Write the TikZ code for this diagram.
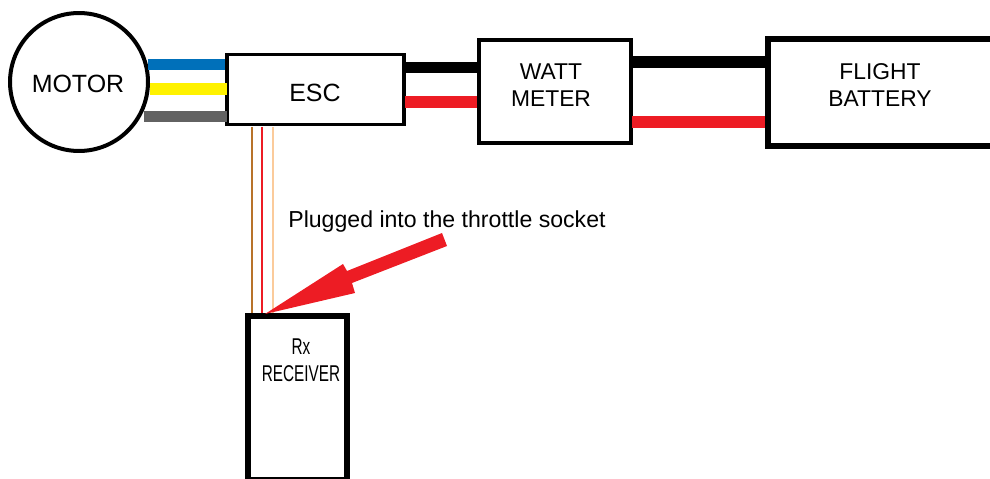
\documentclass[tikz,border=0pt]{standalone}
\usepackage{fontspec}
\setmainfont{Liberation Sans}
\usepackage{tikz}
\usetikzlibrary{positioning, calc}

\definecolor{wireblue}{HTML}{0070BA}
\definecolor{wireyellow}{HTML}{FFF200}
\definecolor{wiregray}{HTML}{626262}
\definecolor{wirered}{HTML}{ED1C24}
\definecolor{wirebrown}{HTML}{B8732A}
\definecolor{wirepeach}{HTML}{FBCB9B}

\begin{document}
\begin{tikzpicture}[
        x=0.02cm, y=-0.02cm,
        % Plain outlined box, sizes are set per node
        block/.style={
            draw,
            rectangle,
            inner sep=0pt,
            align=center
        },
        wire/.style={line width=0.23cm},
        thinwire/.style={line width=0.04cm},
        lbl/.style={font=\fontsize{13}{15.5}\selectfont, align=center}
    ]
    \useasboundingbox (0,0) rectangle (990,479);
    \clip (0,0) rectangle (990,479);

    % Free ends of the wires
    \coordinate (blueL) at (148,64.5);
    \coordinate (yellowL) at (150,89);
    \coordinate (grayL) at (144,116.5);
    \coordinate (blackL) at (405,67.5);
    \coordinate (redL) at (405,102);
    \coordinate (blackM) at (632,62);
    \coordinate (redM) at (632,122);

    % Boxes
    \node[block, line width=0.08cm, circle, minimum size=2.76cm] (motor) at (79,82) {};
    \node[block, line width=0.07cm, minimum width=3.55cm, minimum height=1.4cm] (esc) at (315.5,89.5) {};
    \node[block, line width=0.08cm, minimum width=3.04cm, minimum height=2.06cm] (meter) at (555,91.5) {};
    \node[block, line width=0.12cm, minimum width=4.64cm, minimum height=2.15cm] (battery) at (884,92.75) {};
    \node[block, line width=0.12cm, minimum width=1.98cm, minimum height=3.28cm] (receiver) at (297.5,398) {};

    % Motor phases
    \draw[wire, wireblue] (blueL) -- (blueL -| esc.west);
    \draw[wire, wireyellow] (yellowL) -- ([xshift=0.04cm]yellowL -| esc.west);
    \draw[wire, wiregray] (grayL) -- ([xshift=0.04cm]grayL -| esc.west);

    % Power leads
    \draw[wire, black] (blackL) -- (blackL -| meter.west);
    \draw[wire, wirered] (redL) -- (redL -| meter.west);
    \draw[wire, black] (blackM) -- (blackM -| battery.west);
    \draw[wire, wirered] (redM) -- (redM -| battery.west);

    % Servo lead
    \coordinate (brownT) at (252,127);
    \coordinate (redT) at (262,127);
    \coordinate (peachT) at (273,127);
    \draw[thinwire, wirebrown] (brownT) -- (brownT |- receiver.north);
    \draw[thinwire, wirered] (redT) -- (redT |- receiver.north);
    \draw[thinwire, wirepeach] (peachT) -- (peachT |- receiver.north);

    % Labels
    \node[lbl, font=\fontsize{14.2}{17}\selectfont] (motorlabel) at (78,84) {MOTOR};
    \node[lbl, font=\fontsize{14.2}{17}\selectfont] (esclabel) at (315,93) {ESC};
    \node[lbl] (meterlabel) at (551,85) {WATT\\METER};
    \node[lbl] (batterylabel) at (880,85) {FLIGHT\\BATTERY};
    \node[font=\fontsize{13.15}{15}\selectfont, anchor=west, inner sep=0pt] (socketlabel) at (288,222) {Plugged into the throttle socket};
    \node[lbl, xscale=0.67, transform shape] (rxlabel) at (301,360) {Rx\\RECEIVER};

    % Pointer
    \fill[wirered] (442,233) -- (447,246) -- (352,283) -- (355,293) -- (265,314)
        -- (343,264) -- (347,271) -- cycle;
\end{tikzpicture}
\end{document}
